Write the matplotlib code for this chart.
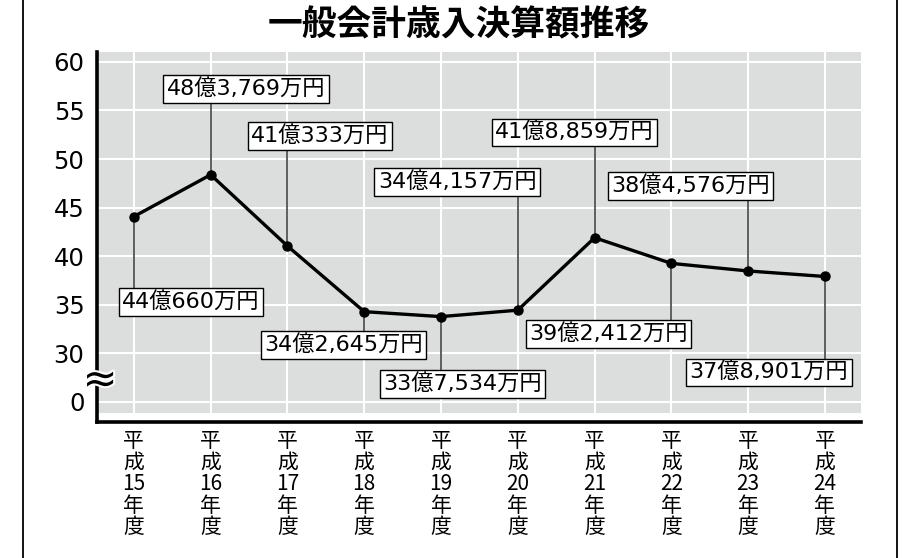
import numpy as np
import matplotlib.pyplot as plt
import matplotlib.patheffects as pe
from matplotlib.lines import Line2D

# data
years = ['15', '16', '17', '18', '19', '20', '21', '22', '23', '24']
values = [44.066, 48.3769, 41.0333, 34.2645, 33.7534, 34.4157, 41.8859, 39.2412, 38.4576, 37.8901]
labels = ['44億660万円', '48億3,769万円', '41億333万円', '34億2,645万円', '33億7,534万円',
          '34億4,157万円', '41億8,859万円', '39億2,412万円', '38億4,576万円', '37億8,901万円']
yticks = [25, 30, 35, 40, 45, 50, 55, 60]
ytick_labels = ['0', '30', '35', '40', '45', '50', '55', '60']
title = '一般会計歳入決算額推移'

# label box centres (x in category units, y in value units)
label_x = [0.74, 1.46, 2.42, 2.73, 4.28, 4.21, 5.74, 6.18, 7.25, 8.27]
label_y = [35.26, 57.22, 52.37, 30.82, 26.80, 47.63, 52.73, 31.96, 47.22, 27.99]

jp = ['Noto Sans CJK JP', 'DejaVu Sans']
mixed = ['DejaVu Sans', 'Noto Sans CJK JP']

fig = plt.figure(figsize=(9.03, 5.58), dpi=100)
ax = fig.add_axes([97/903, (558-422)/558, (861-97)/903, (422-52)/558])
ax.set_xlim(-0.48, 9.47)
ax.set_ylim(22.89, 61.03)

# gray panel + white grid
ax.axhspan(23.8, 61.03, color='#dcdddd', lw=0, zorder=0)
for y in yticks:
    ax.axhline(y, color='white', lw=1.5, zorder=1)
x = np.arange(len(values))
ax.vlines(x, 23.8, 61.03, color='white', lw=1.5, zorder=1)

# leader lines and boxes
for i in range(len(values)):
    ax.plot([x[i], x[i]], [values[i], label_y[i]], color='#333333', lw=1.1, zorder=2)
    ax.text(label_x[i], label_y[i], labels[i], ha='center', va='center', fontsize=16,
            family=mixed, zorder=5,
            bbox=dict(boxstyle='square,pad=0.15', fc='white', ec='black', lw=1))

ax.plot(x, values, color='black', lw=2.4, marker='o', ms=6.5, zorder=4)

for s in ['top', 'right']:
    ax.spines[s].set_visible(False)
for s in ['left', 'bottom']:
    ax.spines[s].set_linewidth(2.6)

ax.set_yticks(yticks)
ax.set_yticklabels(ytick_labels, fontsize=17.5, family=mixed)
ax.tick_params(axis='y', length=0, pad=9)
ax.set_xticks(x)
ax.set_xticklabels(['平\n成\n%s\n年\n度' % y for y in years], fontsize=15, family=jp,
                   linespacing=0.97)
ax.tick_params(axis='x', length=0, pad=6)

# axis break mark
ax.text(-0.44, 27.2, '≈', ha='center', va='center', fontsize=30, family=mixed, zorder=6,
        path_effects=[pe.withStroke(linewidth=3, foreground='white')], clip_on=False)

fig.text(0.508, 1 - 25/558, title, ha='center', va='center', fontsize=25,
         weight='bold', family=jp)

# outer frame
fig.add_artist(Line2D([23/903, 23/903], [0, 1], color='black', lw=1.3))
fig.add_artist(Line2D([897/903, 897/903], [0, 1], color='black', lw=1.3))

plt.savefig('out.png')
